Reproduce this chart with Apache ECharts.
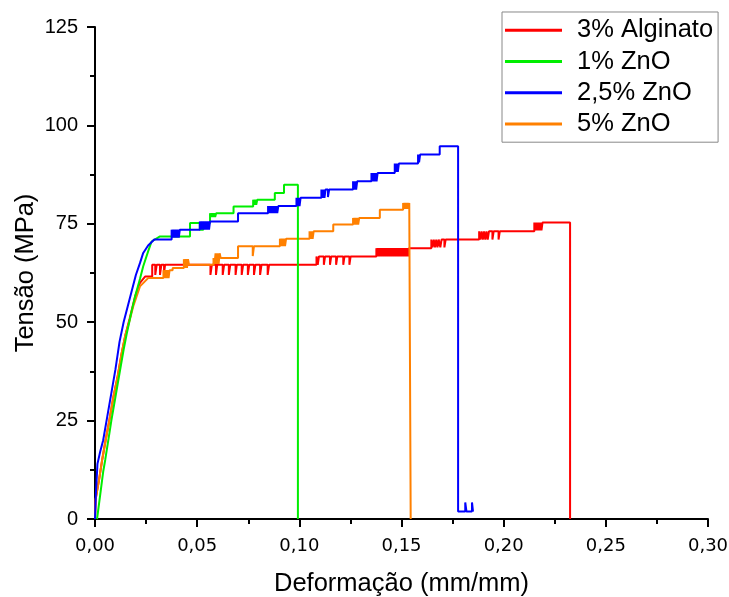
<!DOCTYPE html>
<html>
<head>
<meta charset="utf-8">
<script src="https://cdn.jsdelivr.net/npm/echarts@6/dist/echarts.min.js"></script>
<style>html,body{margin:0;padding:0;background:#fff;}#c{width:729px;height:597px;}</style>
</head>
<body>
<div id="c"></div>
<script>
// ---- data (strain mm/mm, stress MPa) ----
const seriesNames = ['3% Alginato', '1% ZnO', '2,5% ZnO', '5% ZnO'];
const seriesColors = ['#ff0000', '#00ee00', '#0000ff', '#ff8000'];
const xTickRange = [0, 0.30, 0.05];
const yTickRange = [0, 125, 25];

const alginato = [
[0,0],[0.0003,5],[0.002,10],[0.0035,15],[0.0052,20],[0.007,25],[0.009,31],[0.011,36],[0.013,42],[0.015,47],[0.017,51],[0.0196,56.5],[0.022,60],[0.0245,61.6],[0.028,61.6],[0.028,64.6],
[0.0295,64.6],[0.0295,62],[0.0302,62],[0.0302,64.6],
[0.0318,64.6],[0.0318,62],[0.0325,62],[0.0325,64.6],
[0.0338,64.6],[0.0338,62.5],[0.0343,62.5],[0.0343,64.6],
[0.0565,64.6],[0.0565,62],[0.0572,62],[0.0572,64.6],
[0.0592,64.6],[0.0592,62],[0.0598,62],[0.0598,64.6],
[0.0625,64.6],[0.0625,62],[0.0632,62],[0.0632,64.6],
[0.0655,64.6],[0.0655,62],[0.0662,62],[0.0662,64.6],
[0.0688,64.6],[0.0688,62],[0.0694,62],[0.0694,64.6],
[0.0718,64.6],[0.0718,62],[0.0725,62],[0.0725,64.6],
[0.0748,64.6],[0.0748,62],[0.0755,62],[0.0755,64.6],
[0.0778,64.6],[0.0778,62],[0.0785,62],[0.0785,64.6],
[0.0808,64.6],[0.0808,62],[0.0815,62],[0.0815,64.6],
[0.0845,64.6],[0.0845,62],[0.0852,62],[0.0852,64.6],
[0.1084,64.6],[0.1084,66.7],
[0.1090,66.7],[0.1090,64.6],[0.1096,64.6],[0.1096,66.7],
[0.1120,66.7],[0.1120,64.6],[0.1126,64.6],[0.1126,66.7],
[0.1150,66.7],[0.1150,64.6],[0.1156,64.6],[0.1156,66.7],
[0.1180,66.7],[0.1180,64.6],[0.1186,64.6],[0.1186,66.7],
[0.1215,66.7],[0.1215,64.6],[0.1221,64.6],[0.1221,66.7],
[0.1245,66.7],[0.1245,64.6],[0.1251,64.6],[0.1251,66.7],
[0.1377,66.7],[0.1377,68.8],[0.1382,66.7],[0.1387,68.8],[0.1392,66.7],[0.1397,68.8],[0.1402,66.7],[0.1407,68.8],[0.1412,66.7],[0.1417,68.8],
[0.1422,66.7],[0.1427,68.8],[0.1432,66.7],[0.1437,68.8],[0.1442,66.7],[0.1447,68.8],[0.1452,66.7],[0.1457,68.8],[0.1462,66.7],[0.1467,68.8],
[0.1472,66.7],[0.1477,68.8],[0.1482,66.7],[0.1487,68.8],[0.1492,66.7],[0.1497,68.8],[0.1502,66.7],[0.1507,68.8],[0.1512,66.7],[0.1517,68.8],
[0.1522,66.7],[0.1527,68.8],[0.1532,66.7],[0.1537,68.8],[0.1542,68.8],
[0.1646,68.8],[0.1646,71],
[0.1652,69],[0.1658,71],[0.1664,69],[0.1670,71],[0.1676,69],[0.1682,71],[0.1690,71],[0.1690,69],[0.1696,69],[0.1696,71],
[0.1710,71],[0.1710,69],[0.1716,69],[0.1716,71],
[0.188,71],[0.188,73.1],
[0.1886,71],[0.1892,73.1],[0.1898,71],[0.1904,73.1],[0.1910,71],[0.1916,73.1],[0.1922,71],[0.1928,73.1],
[0.1945,73.1],[0.1945,71],[0.1951,71],[0.1951,73.1],
[0.1975,73.1],[0.1975,71],[0.1981,71],[0.1981,73.1],
[0.215,73.1],[0.215,75.3],
[0.2155,73.3],[0.2160,75.3],[0.2165,73.3],[0.2170,75.3],[0.2175,73.3],[0.2180,75.3],[0.2185,73.3],[0.2190,75.3],
[0.2325,75.3],[0.2325,0]
];

const zno1 = [
[0.001,0],[0.002,4],[0.003,8],[0.004,12],[0.005,15],[0.0065,20],[0.008,25],[0.010,31],[0.012,37],[0.014,43],[0.0155,47],[0.018,53],[0.0196,56.5],[0.022,61],[0.0236,64.2],[0.026,68],[0.0277,70.5],[0.0318,71.8],
[0.0465,71.8],[0.0465,75.2],[0.0513,75.2],[0.0513,73.5],[0.053,73.5],[0.053,75.2],
[0.0563,75.2],[0.0563,77.7],[0.0568,76.7],[0.0573,77.7],[0.0578,76.7],[0.0583,77.7],[0.0588,76.7],[0.0593,77.7],
[0.0678,77.7],[0.0678,79.4],
[0.0774,79.4],[0.0774,81.1],[0.0779,79.8],[0.0784,81.1],[0.0789,79.8],[0.0794,81.1],
[0.088,81.1],[0.088,82.8],[0.0925,82.8],[0.0925,84.9],[0.0993,84.9],[0.0993,0]
];

const zno25 = [
[0,0],[0.0004,6],[0.0008,10],[0.0012,14],[0.0025,17],[0.004,20],[0.006,26],[0.008,32],[0.010,38],[0.012,45],[0.014,50],[0.016,54],[0.018,58],[0.020,62],[0.022,65],[0.0236,67.6],[0.026,69.5],[0.029,71],
[0.0375,71],[0.0375,73.5],[0.038,71.5],[0.0385,73.5],[0.039,71.5],[0.0395,73.5],[0.040,71.5],[0.0405,73.5],[0.041,71.5],[0.0415,73.5],
[0.0513,73.5],[0.0513,75.6],[0.0518,73.5],[0.0523,75.6],[0.0528,73.5],[0.0533,75.6],[0.0538,73.5],[0.0543,75.6],[0.0548,73.5],[0.0553,75.6],[0.0558,73.5],[0.0563,75.6],
[0.070,75.6],[0.070,77.7],
[0.0847,77.7],[0.0847,79.5],[0.0852,77.7],[0.0857,79.5],[0.0862,77.7],[0.0867,79.5],[0.0872,77.7],[0.0877,79.5],[0.0882,77.7],[0.0887,79.5],[0.0892,77.7],[0.0897,79.5],
[0.0986,79.5],[0.0986,81.6],[0.0991,79.5],[0.0996,81.6],[0.1001,79.5],[0.1006,81.6],
[0.1108,81.6],[0.1108,83.7],[0.1113,81.6],[0.1118,83.7],[0.1123,81.6],[0.1128,83.7],[0.1140,83.7],[0.1140,81.8],[0.1146,81.8],[0.1146,83.7],
[0.1263,83.7],[0.1263,85.8],[0.1268,83.7],[0.1273,85.8],[0.1278,83.7],[0.1283,85.8],
[0.1353,85.8],[0.1353,87.9],[0.1358,85.8],[0.1363,87.9],[0.1368,85.8],[0.1373,87.9],[0.1378,85.8],[0.1383,87.9],
[0.1467,87.9],[0.1467,90.3],[0.1472,88.2],[0.1477,90.3],[0.1482,88.2],[0.1487,90.3],
[0.1581,90.3],[0.1581,92.6],[0.1586,90.6],[0.1591,92.6],
[0.1687,92.6],[0.1687,94.7],[0.1777,94.7],[0.1777,1.9],
[0.1812,1.9],[0.1812,4.2],[0.1818,4.2],[0.1818,1.9],[0.1845,1.9],[0.1845,4.2],[0.1850,4.2],[0.1850,1.9]
];

const zno5 = [
[0,0],[0.0003,5],[0.002,10],[0.0035,15],[0.0052,20],[0.007,25],[0.009,31],[0.011,36],[0.013,42],[0.0147,46.4],[0.0167,50],[0.0187,54],[0.022,59.1],[0.026,61.2],
[0.0335,61.2],[0.0335,63.2],[0.034,61.2],[0.0345,63.2],[0.035,61.2],[0.0355,63.2],[0.036,61.2],[0.0365,63.2],
[0.038,63.2],[0.038,63.8],
[0.0435,63.8],[0.0435,66],[0.044,63.8],[0.0445,66],[0.045,63.8],[0.0455,66],[0.046,64.6],
[0.058,64.6],[0.058,66.3],[0.0585,64.8],[0.059,67.5],[0.0595,64.8],[0.060,67.5],[0.0605,64.8],[0.061,67.5],[0.0615,66.3],
[0.070,66.3],[0.070,69.3],[0.0772,69.3],[0.0772,66.8],[0.0778,66.8],[0.0778,69.3],
[0.0905,69.3],[0.0905,71.2],[0.091,69.3],[0.0915,71.2],[0.092,69.3],[0.0925,71.2],[0.093,69.3],[0.0935,71.2],
[0.105,71.2],[0.105,73.1],[0.1055,71.2],[0.106,73.1],[0.1065,71.2],[0.107,73.1],
[0.1166,73.1],[0.1166,74.8],
[0.1263,74.8],[0.1263,76.5],[0.1268,74.8],[0.1273,76.5],[0.1278,74.8],[0.1283,76.5],[0.1288,74.8],[0.1293,76.5],
[0.1394,76.5],[0.1394,78.6],
[0.1508,78.6],[0.1508,80.3],[0.1513,78.8],[0.1518,80.3],[0.1523,78.8],[0.1528,80.3],[0.1533,78.8],[0.1538,80.3],
[0.1545,80.3],[0.1545,0]
];

const seriesData = [alginato, zno1, zno25, zno5];
const drawOrder = [0, 3, 1, 2];

const chart = echarts.init(document.getElementById('c'), null, {renderer: 'canvas'});
const fmt = v => v.toFixed(2).replace('.', ',');

const series = drawOrder.map(i => ({
  name: seriesNames[i],
  type: 'line',
  data: seriesData[i],
  showSymbol: false,
  symbol: 'none',
  lineStyle: {color: seriesColors[i], width: 2},
  itemStyle: {color: seriesColors[i]},
  animation: false,
  z: 2
}));

chart.setOption({
  backgroundColor: '#fff',
  animation: false,
  grid: {left: 95, right: 21, top: 27, bottom: 78, containLabel: false, outerBoundsMode: 'none'},
  legend: {
    data: seriesNames,
    orient: 'vertical',
    left: 502,
    top: 12,
    icon: 'rect',
    itemWidth: 57,
    itemHeight: 3,
    itemGap: 5.2,
    padding: [5.3, 5, 5.3, 3],
    borderColor: '#888',
    borderWidth: 1,
    backgroundColor: '#fff',
    textStyle: {fontFamily: 'Liberation Sans', fontSize: 25.5, color: '#000', lineHeight: 25, padding: [0, 0, 0, 10]}
  },
  xAxis: {
    type: 'value',
    min: xTickRange[0], max: xTickRange[1], interval: xTickRange[2],
    name: 'Deformação (mm/mm)',
    nameLocation: 'middle',
    nameGap: 52,
    nameMoveOverlap: false,
    nameTextStyle: {fontFamily: 'Liberation Sans', fontSize: 25.5, color: '#000'},
    axisLine: {show: true, onZero: false, lineStyle: {color: '#000', width: 2}},
    axisTick: {show: true, inside: false, length: 8, lineStyle: {color: '#000', width: 2}},
    minorTick: {show: true, splitNumber: 2, length: 5, lineStyle: {color: '#000', width: 2}},
    splitLine: {show: false},
    axisLabel: {formatter: fmt, fontFamily: 'DejaVu Sans', fontSize: 18, color: '#000', margin: 18}
  },
  yAxis: {
    type: 'value',
    min: yTickRange[0], max: yTickRange[1], interval: yTickRange[2],
    name: 'Tensão (MPa)',
    nameLocation: 'middle',
    nameGap: 56,
    nameMoveOverlap: false,
    nameTextStyle: {fontFamily: 'Liberation Sans', fontSize: 25.5, color: '#000'},
    axisLine: {show: true, onZero: false, lineStyle: {color: '#000', width: 2}},
    axisTick: {show: true, inside: false, length: 8, lineStyle: {color: '#000', width: 2}},
    minorTick: {show: true, splitNumber: 2, length: 5, lineStyle: {color: '#000', width: 2}},
    splitLine: {show: false},
    axisLabel: {fontFamily: 'Liberation Sans', fontSize: 20, color: '#000', margin: 17}
  },
  series: series
});
</script>
</body>
</html>
